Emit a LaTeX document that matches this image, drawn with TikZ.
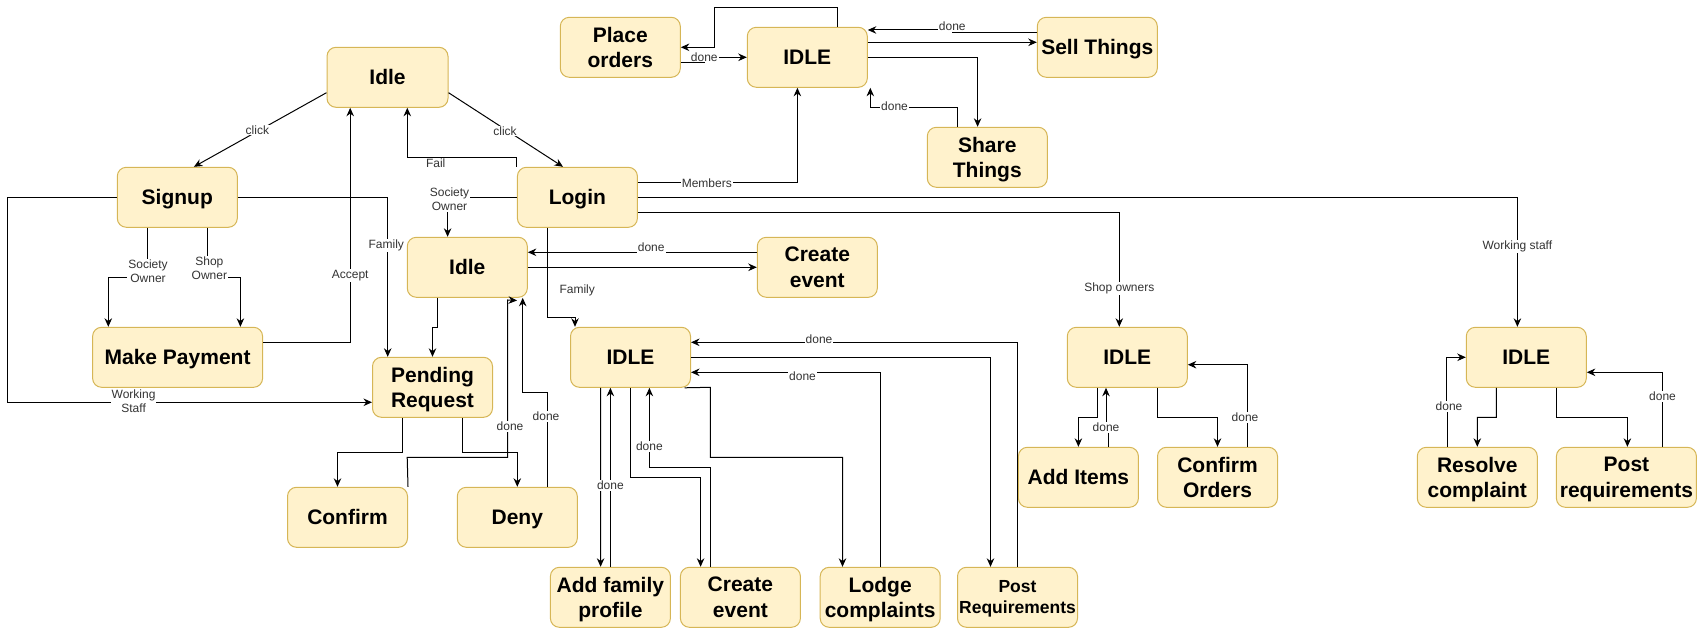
\documentclass[tikz,border=0pt]{standalone}
\usepackage{fontspec}
\setmainfont{Liberation Sans}
\usetikzlibrary{arrows.meta}
\definecolor{boxfill}{HTML}{FFF2CC}
\definecolor{boxline}{HTML}{D6B656}
\definecolor{labtext}{HTML}{333333}
\begin{document}
\begin{tikzpicture}[x=1pt,y=-1pt,
  state/.style={draw=boxline, fill=boxfill, line width=1pt, rounded corners=9pt, minimum width=120pt, minimum height=60pt, inner sep=0pt, align=center, text depth=-1.5pt, font=\fontsize{21}{25.7}\selectfont\bfseries},
  arr/.style={line width=1pt, -{Stealth[length=8.5pt,width=7.5pt]}},
  lab/.style={fill=white, inner sep=1pt, text=labtext, align=center, font=\fontsize{12}{14}\selectfont}]
\path[use as bounding box] (0,0) rectangle (1698,628);

% nodes
\node[state, minimum width=121pt] (idleA) at (387.5,77.3) {Idle};
\node[state] (signup) at (177.3,197.3) {Signup};
\node[state] (login) at (577.4,197.3) {Login};
\node[state] (idleB) at (467.3,267.3) {Idle};
\node[state, minimum width=170pt] (pay) at (177.6,357.3) {Make Payment};
\node[state] (pend) at (432.5,387.3) {Pending\\Request};
\node[state] (confirm) at (347.5,517.3) {Confirm};
\node[state] (deny) at (517.3,517.3) {Deny};
\node[state] (place) at (620.3,47.3) {Place\\orders};
\node[state] (idleT) at (807.3,57.3) {IDLE};
\node[state] (sell) at (1097.3,47.3) {Sell Things};
\node[state] (share) at (987.3,157.3) {Share\\Things};
\node[state] (ceA) at (817.3,267.3) {Create\\event};
\node[state] (idleF) at (630.5,357.3) {IDLE};
\node[state] (afp) at (610.4,597.3) {Add family\\profile};
\node[state] (ceB) at (740.4,597.3) {Create\\event};
\node[state] (lodge) at (880.2,597.3) {Lodge\\complaints};
\node[state, font=\fontsize{17.5}{21.3}\selectfont\bfseries] (postF) at (1017.5,597.3) {Post\\Requirements};
\node[state] (idleS) at (1127.3,357.3) {IDLE};
\node[state] (additems) at (1078.4,477.3) {Add Items};
\node[state] (corders) at (1217.5,477.3) {Confirm\\Orders};
\node[state] (idleW) at (1526.3,357.3) {IDLE};
\node[state] (resolve) at (1477.3,477.3) {Resolve\\complaint};
\node[state, minimum width=140pt] (postW) at (1626.4,477.3) {Post\\requirements};

% connectors
\draw[arr] ([yshift=-15.4pt]idleA.west) -- ([xshift=16.6pt]signup.north);
\draw[arr] ([yshift=-15.4pt]idleA.east) -- ([xshift=-14.4pt]login.north);
\draw[arr] (login.north west) |- (407.3,157.3) -- ([xshift=19.8pt]idleA.south);
\draw[arr] (login.west) -| ([xshift=-19.7pt]idleB.north);
\draw[arr] (signup.east) -| ([xshift=-44.8pt]pend.north);
\draw[arr] (signup.west) -- (7.2,197.3) |- ([yshift=-15pt]pend.west);
\draw[arr] ([xshift=-30pt]signup.south) -- (147.3,277.3) -| ([xshift=-69.3pt]pay.north);
\draw[arr] ([xshift=29.9pt]signup.south) -- (207.2,277.3) -| ([xshift=62.8pt]pay.north);
\draw[arr] ([yshift=15pt]pay.east) -| ([xshift=-37.3pt]idleA.south);
\draw[arr] ([xshift=-29.8pt]idleB.south) -- (437.5,327.3) -- (432.5,327.3) -- (pend.north);
\draw[arr] ([xshift=-30pt]pend.south) -- (402.5,452.3) -| ([xshift=-10pt]confirm.north);
\draw[arr] ([xshift=30pt]pend.south) -- (462.5,452.3) -| (deny.north);
\draw[arr] (confirm.north east) -- (407.2,457.3) -- (507.6,457.3) -- (507.6,300) -- ([shift={(49.7pt,-2.7pt)}]idleB.south);
\draw[arr] ([xshift=30.4pt]deny.north) -- (547.7,392.3) -| ([xshift=55.4pt]idleB.south);
\draw[arr] ([xshift=30.5pt]idleT.north) -- (837.8,7.3) -- (714.4,7.3) |- (place.east);
\draw[arr] ([yshift=-15pt]place.east) -- (704,62.3) -- (704,57.3) -- (idleT.west);
\draw[arr] ([yshift=15pt]sell.west) -- (952,32.3) -- (952,30) -- ([yshift=27.3pt]idleT.east);
\draw[arr] ([yshift=15pt]idleT.east) -- ([yshift=5pt]sell.west);
\draw[arr] (idleT.east) -| ([xshift=-9.7pt]share.north);
\draw[arr] ([xshift=-29.6pt]share.north) -- (957.7,107.3) -| ([xshift=63pt]idleT.south);
\draw[arr] ([yshift=15pt]login.east) -| ([xshift=-9.9pt]idleT.south);
\draw[arr] (login.east) -| ([xshift=-8.9pt]idleW.north);
\draw[arr] ([yshift=-15pt]login.east) -| ([xshift=-8pt]idleS.north);
\draw[arr] ([xshift=-30.2pt]login.south) -- (547.2,317.3) -| ([xshift=-55.5pt]idleF.north);
\draw[arr] ([yshift=15pt]ceA.west) -- ([yshift=15pt]idleB.east);
\draw[arr] (idleB.east) -- (ceA.west);
\draw[arr] (idleF.east) -| ([xshift=-27pt]postF.north);
\draw[arr] (postF.north) |- ([yshift=15pt]idleF.east);
\draw[arr] (lodge.north) |- ([yshift=-15pt]idleF.east);
\draw[arr] ([xshift=54pt]idleF.south) -- (710.4,387.3) -- (710.4,457.3) -| ([xshift=-37.7pt]lodge.north);
\draw[arr] ([xshift=-29.9pt]idleF.south) -- ([xshift=-9.8pt]afp.north);
\draw[arr] (afp.north) -- ([xshift=-20.1pt]idleF.south);
\draw[arr] (idleF.south) -- (630.5,477.3) -| ([xshift=-39.8pt]ceB.north);
\draw[arr] ([xshift=-30pt]ceB.north) -- (710.4,467.3) -| ([xshift=18.9pt]idleF.south);
\draw[arr] ([xshift=-30.3pt]idleS.south) -- (1097,417.3) -| (additems.north);
\draw[arr] ([xshift=29.8pt]additems.north) -- (1108.2,427.7) -- (1106,427.7) -- ([xshift=-21.3pt]idleS.south);
\draw[arr] ([xshift=30.3pt]idleS.south) -- (1157.6,417.3) -| (corders.north);
\draw[arr] ([xshift=30pt]corders.north) |- ([yshift=-7.4pt]idleS.east);
\draw[arr] ([xshift=-29.9pt]idleW.south) -- (1496.4,417.3) -| (resolve.north);
\draw[arr] ([xshift=-29.8pt]resolve.north) -- (1447.5,406.7) -- (1446.6,406.7) |- (idleW.west);
\draw[arr] ([xshift=30.2pt]idleW.south) -- (1556.5,417.3) -| ([xshift=1pt]postW.north);
\draw[arr] ([xshift=36.2pt]postW.north) |- ([yshift=-15pt]idleW.east);

% labels
\node[lab] (l1) at (257.4,130) {click};
\node[lab] (l2) at (505,131) {click};
\node[lab] (l3) at (435.7,163.3) {Fail};
\node[lab] (l4) at (449.5,199.7) {Society\\Owner};
\node[lab] (l5) at (386.3,245.7) {Family};
\node[lab] (l6) at (133.6,401.7) {Working\\Staff};
\node[lab] (l7) at (148,271.7) {Society\\Owner};
\node[lab] (l8) at (209.4,268.5) {Shop\\Owner};
\node[lab] (l9) at (350.2,275.7) {Accept};
\node[lab] (l10) at (510,426.7) {done};
\node[lab] (l11) at (546,416.7) {done};
\node[lab] (l12) at (704.3,57) {done};
\node[lab] (l13) at (952.3,26.5) {done};
\node[lab] (l14) at (894.5,106.5) {done};
\node[lab] (l15) at (706.8,183.5) {Members};
\node[lab] (l16) at (1517.4,246.7) {Working staff};
\node[lab] (l17) at (1119.3,288.3) {Shop owners};
\node[lab] (l18) at (577.2,290.7) {Family};
\node[lab] (l19) at (651.2,247.5) {done};
\node[lab] (l20) at (819,339) {done};
\node[lab] (l21) at (802.5,376.5) {done};
\node[lab] (l22) at (610.4,485.7) {done};
\node[lab] (l23) at (649.4,446.7) {done};
\node[lab] (l24) at (1106,427.7) {done};
\node[lab] (l25) at (1245,417.7) {done};
\node[lab] (l26) at (1449,406.7) {done};
\node[lab] (l27) at (1662.5,396.7) {done};
\end{tikzpicture}
\end{document}
